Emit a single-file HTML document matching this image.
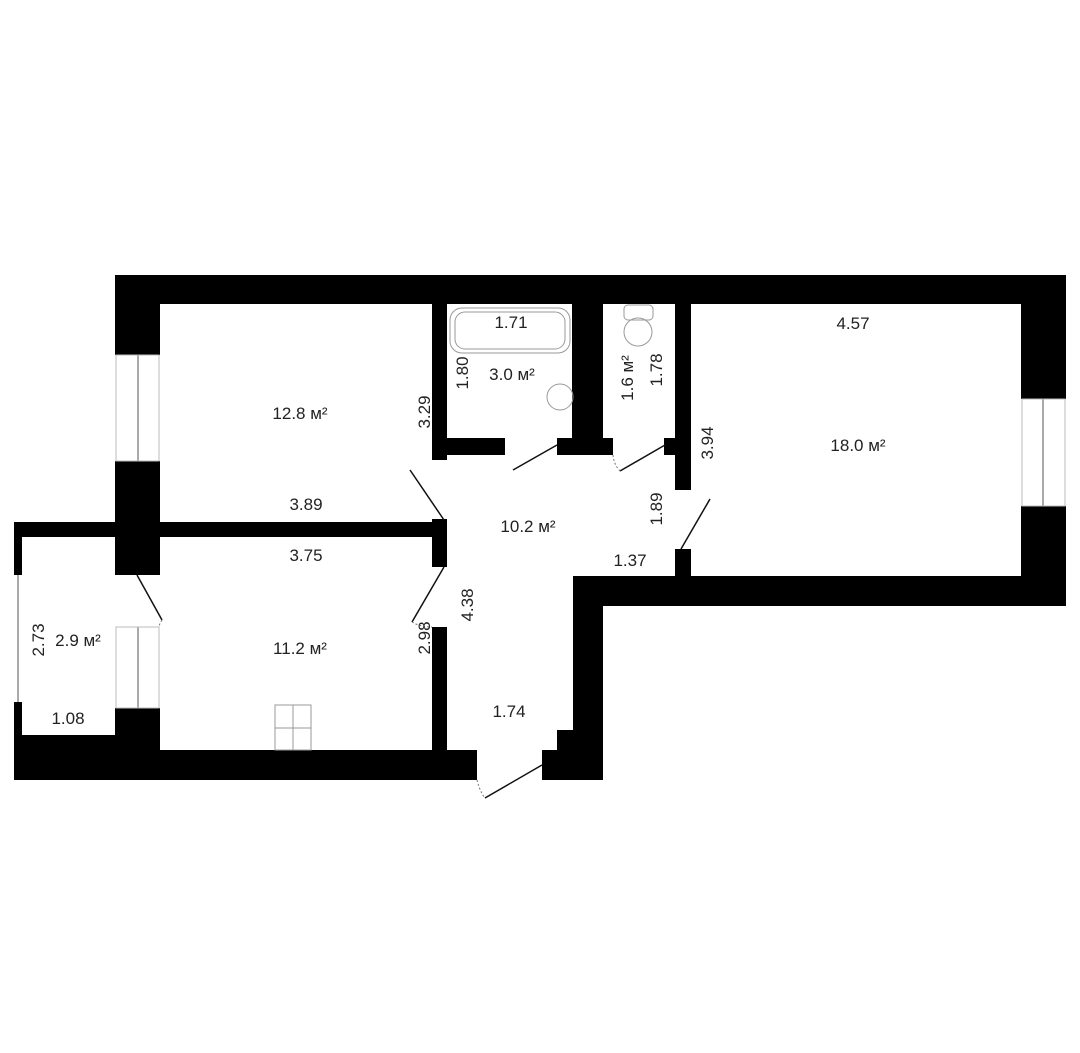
<!DOCTYPE html>
<html><head><meta charset="utf-8"><style>
html,body{margin:0;padding:0;background:#fff}
svg{display:block}
text{font-family:"Liberation Sans",sans-serif;font-size:17px;fill:#222}
</style></head><body>
<svg width="1080" height="1053" viewBox="0 0 1080 1053" xmlns="http://www.w3.org/2000/svg">
<rect width="1080" height="1053" fill="#fff"/>
<g fill="#000">
<!-- outer top -->
<rect x="115" y="275" width="951" height="29"/>
<!-- right wall -->
<rect x="1021" y="275" width="45" height="124"/>
<rect x="1021" y="506" width="45" height="100"/>
<!-- right room bottom -->
<rect x="573" y="576" width="493" height="30"/>
<!-- corridor right wall -->
<rect x="573" y="576" width="30" height="204"/>
<rect x="557" y="730" width="16" height="50"/>
<rect x="542" y="750" width="16" height="30"/>
<!-- left wall -->
<rect x="115" y="275" width="45" height="80"/>
<rect x="115" y="461" width="45" height="114"/>
<rect x="115" y="708" width="45" height="72"/>
<!-- bedroom divider -->
<rect x="115" y="522" width="330" height="15"/>
<!-- balcony -->
<rect x="14" y="522" width="101" height="15"/>
<rect x="14" y="522" width="8" height="53"/>
<rect x="14" y="702" width="8" height="78"/>
<rect x="14" y="735" width="101" height="45"/>
<!-- bottom wall -->
<rect x="14" y="750" width="463" height="30"/>
<!-- hall left wall -->
<rect x="432" y="275" width="15" height="185"/>
<rect x="432" y="519" width="15" height="48"/>
<rect x="432" y="627" width="15" height="153"/>
<!-- bath bottom -->
<rect x="432" y="438" width="73" height="17"/>
<rect x="557" y="438" width="46" height="17"/>
<!-- bath/wc wall -->
<rect x="572" y="275" width="31" height="180"/>
<!-- wc bottom -->
<rect x="603" y="438" width="10" height="17"/>
<rect x="664" y="438" width="26" height="17"/>
<!-- wc / big room wall -->
<rect x="675" y="275" width="16" height="215"/>
<rect x="675" y="549" width="16" height="57"/>
</g>
<!-- windows -->
<g stroke="#555" stroke-width="1" fill="none">
<line x1="138" y1="355" x2="138" y2="461"/>
<line x1="138" y1="627" x2="138" y2="708"/>
<line x1="1043" y1="399" x2="1043" y2="506"/>
<line x1="18" y1="575" x2="18" y2="702"/>
<rect x="116" y="355" width="43" height="106" stroke="#bbb"/>
<rect x="116" y="627" width="43" height="81" stroke="#bbb"/>
<rect x="1022" y="399" width="43" height="107" stroke="#bbb"/>
</g>
<!-- doors -->
<g stroke="#111" stroke-width="1.5">
<line x1="137" y1="575" x2="162" y2="620"/>
<line x1="410" y1="470" x2="444" y2="520"/>
<line x1="444" y1="567" x2="412" y2="622"/>
<line x1="513" y1="470" x2="557" y2="445"/>
<line x1="620" y1="471" x2="665" y2="445"/>
<line x1="710" y1="499" x2="681" y2="549"/>
<line x1="485" y1="798" x2="542" y2="765"/>
</g>
<g stroke="#777" stroke-width="1" stroke-dasharray="2,2" fill="none">
<path d="M162 620 Q158 626 160 627"/>
<path d="M412 622 Q420 627 432 627"/>
<path d="M477 780 Q480 792 485 798"/>
<path d="M613 455 Q614 465 620 471"/>
</g>
<!-- fixtures -->
<g stroke="#999" stroke-width="1" fill="none">
<rect x="450" y="308" width="120" height="45" rx="12"/>
<rect x="455" y="312" width="110" height="37" rx="10"/>
<circle cx="560" cy="397" r="13"/>
<rect x="624" y="305" width="29" height="15" rx="4"/>
<ellipse cx="638" cy="332" rx="14" ry="14"/>
<rect x="275" y="705" width="36" height="45"/>
<line x1="293" y1="705" x2="293" y2="750"/>
<line x1="275" y1="728" x2="311" y2="728"/>
</g>
<!-- labels -->
<text x="300" y="419" text-anchor="middle">12.8 м²</text>
<text x="306" y="510" text-anchor="middle">3.89</text>
<text x="306" y="561" text-anchor="middle">3.75</text>
<text x="300" y="654" text-anchor="middle">11.2 м²</text>
<text x="78" y="646" text-anchor="middle">2.9 м²</text>
<text x="68" y="724" text-anchor="middle">1.08</text>
<text x="512" y="380" text-anchor="middle">3.0 м²</text>
<text x="511" y="328" text-anchor="middle">1.71</text>
<text x="853" y="329" text-anchor="middle">4.57</text>
<text x="858" y="451" text-anchor="middle">18.0 м²</text>
<text x="528" y="532" text-anchor="middle">10.2 м²</text>
<text x="630" y="566" text-anchor="middle">1.37</text>
<text x="509" y="717" text-anchor="middle">1.74</text>
<g text-anchor="middle">
<text transform="translate(44,640) rotate(-90)">2.73</text>
<text transform="translate(430,412) rotate(-90)">3.29</text>
<text transform="translate(468,373) rotate(-90)">1.80</text>
<text transform="translate(633,378) rotate(-90)">1.6 м²</text>
<text transform="translate(662,370) rotate(-90)">1.78</text>
<text transform="translate(713,443) rotate(-90)">3.94</text>
<text transform="translate(662,509) rotate(-90)">1.89</text>
<text transform="translate(473,605) rotate(-90)">4.38</text>
<text transform="translate(430,638) rotate(-90)">2.98</text>
</g>
</svg>
</body></html>
